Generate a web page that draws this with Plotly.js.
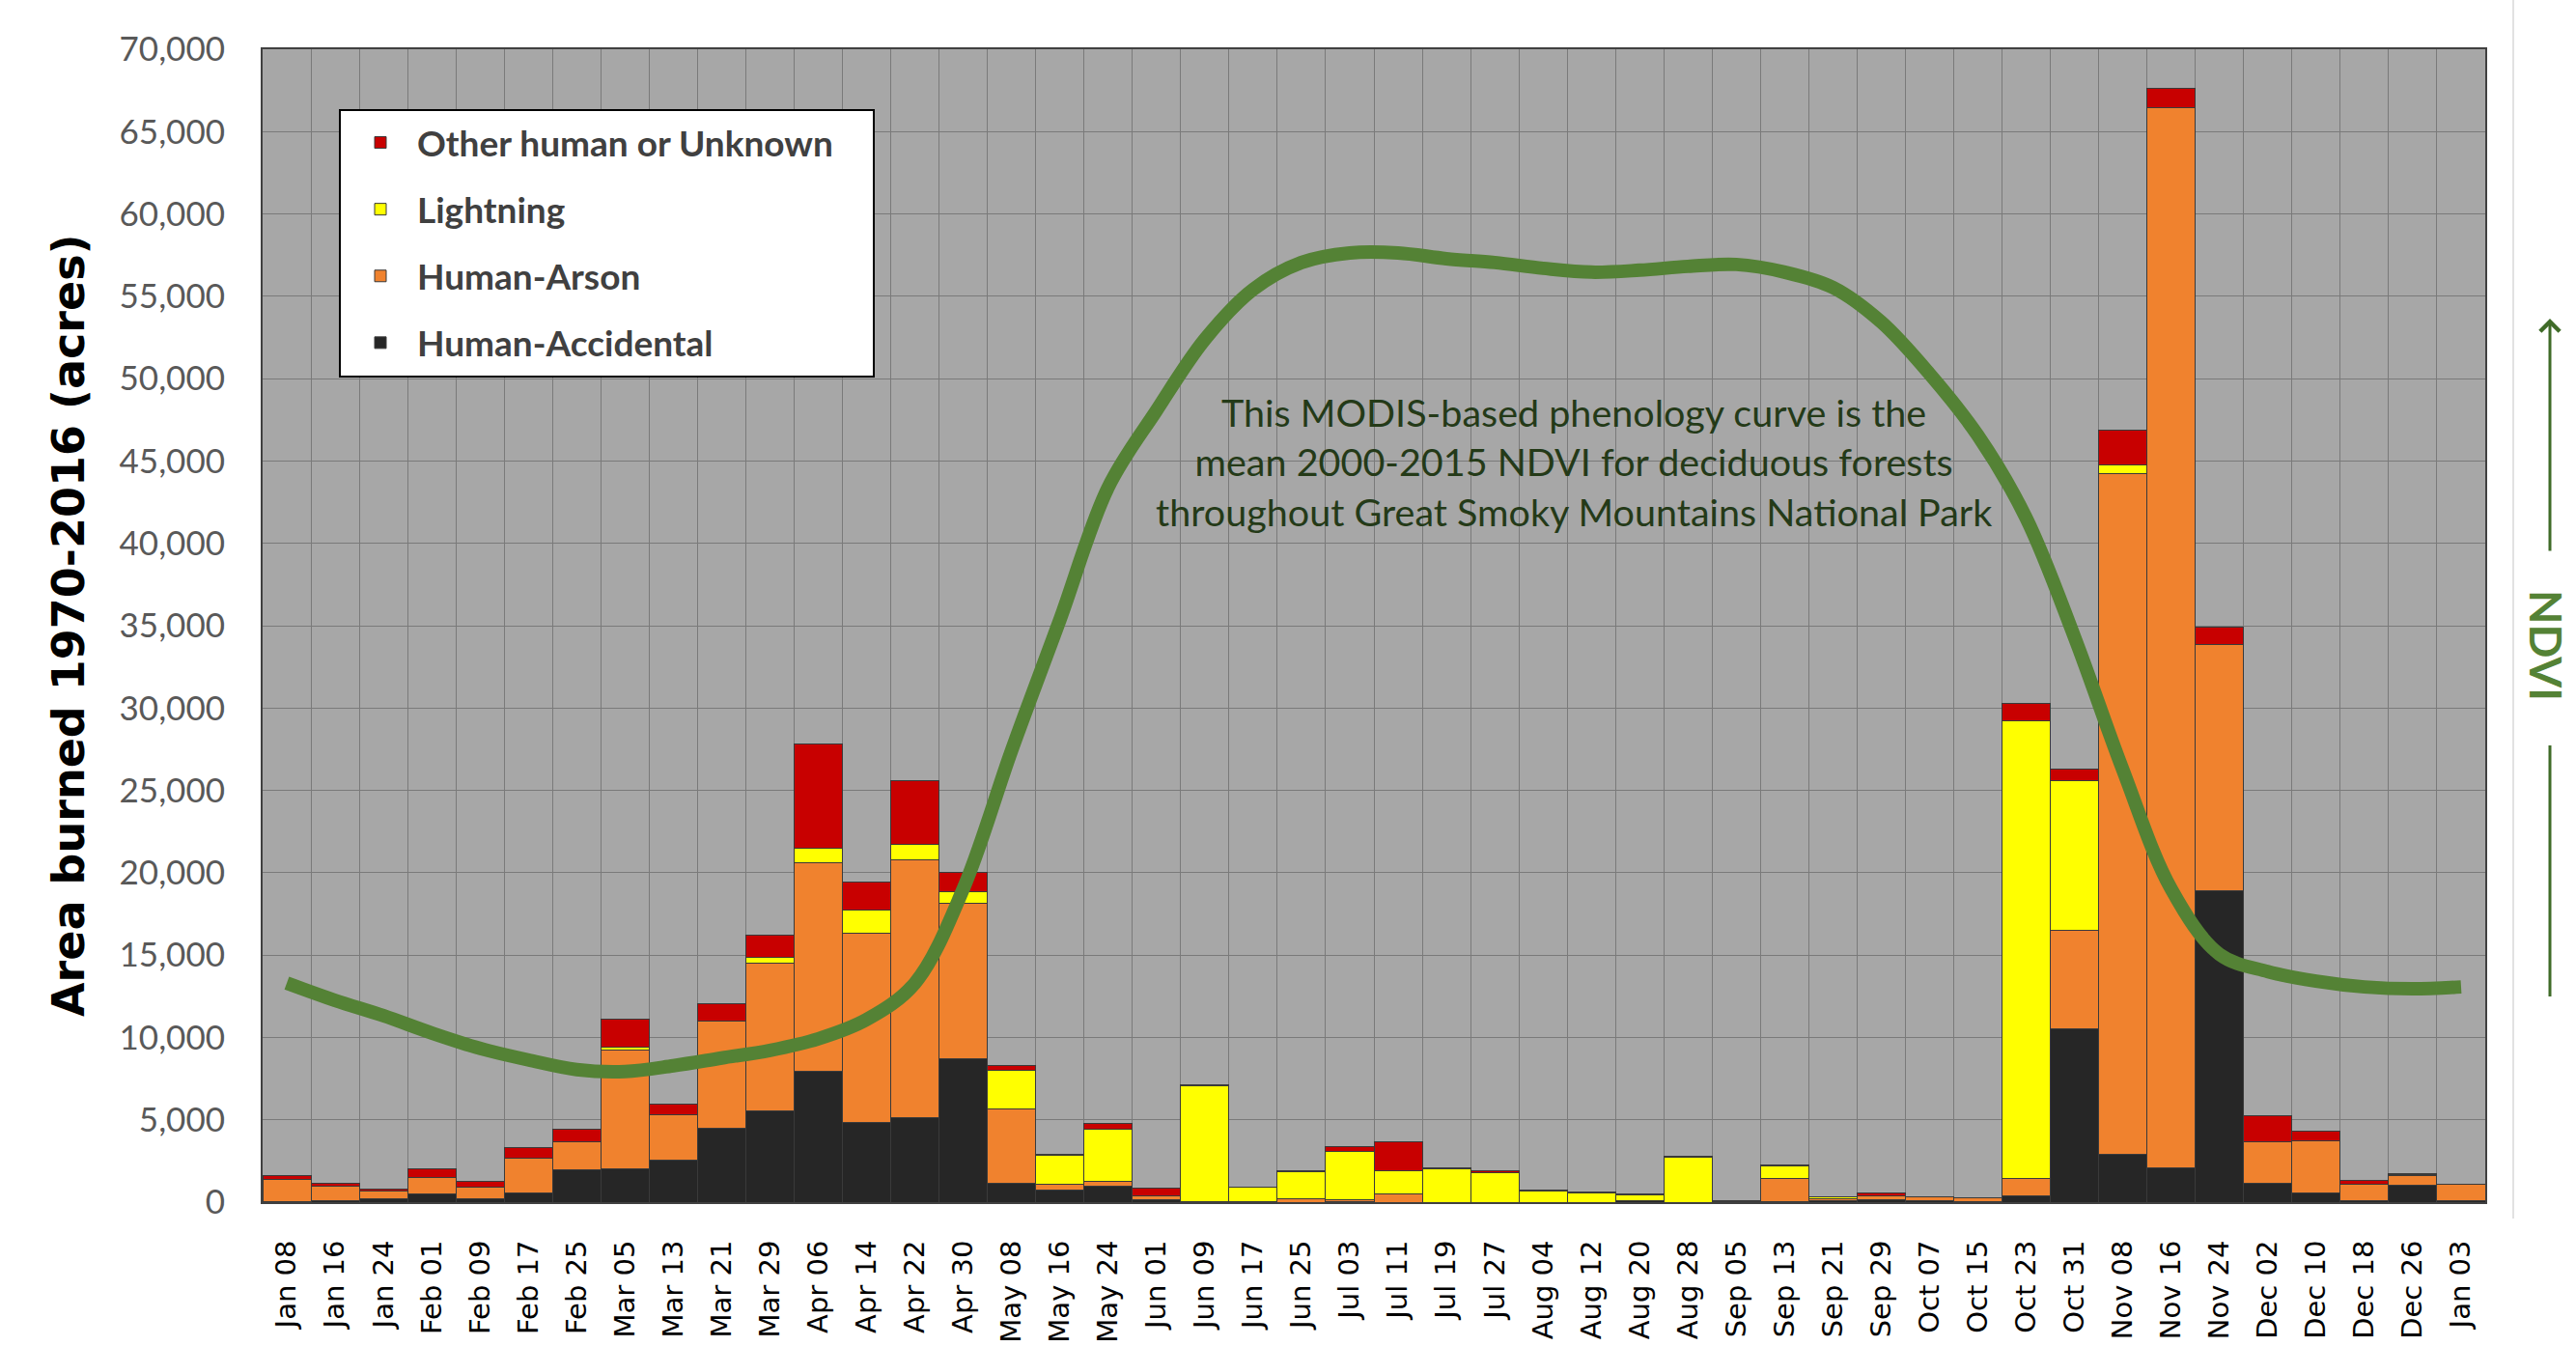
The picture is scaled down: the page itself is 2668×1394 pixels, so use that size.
<!DOCTYPE html>
<html><head><meta charset="utf-8">
<script src="https://cdn.plot.ly/plotly-3.0.1.min.js"></script>
<style>html,body{margin:0;padding:0;background:#fff;}#chart{width:2668px;height:1394px;}</style>
</head><body><div id="chart"></div>
<script>
const weeks = ["Jan 08","Jan 16","Jan 24","Feb 01","Feb 09","Feb 17","Feb 25","Mar 05","Mar 13","Mar 21","Mar 29","Apr 06","Apr 14","Apr 22","Apr 30","May 08","May 16","May 24","Jun 01","Jun 09","Jun 17","Jun 25","Jul 03","Jul 11","Jul 19","Jul 27","Aug 04","Aug 12","Aug 20","Aug 28","Sep 05","Sep 13","Sep 21","Sep 29","Oct 07","Oct 15","Oct 23","Oct 31","Nov 08","Nov 16","Nov 24","Dec 02","Dec 10","Dec 18","Dec 26","Jan 03"];

const humanAccidental = [50,100,200,470,200,570,1940,2000,2550,4490,5560,7920,4840,5140,8680,1140,710,950,160,20,0,0,30,0,0,0,0,0,100,0,50,50,100,150,100,50,370,10500,2880,2090,18900,1140,530,100,1050,80];
const humanArson      = [1300,850,500,1020,720,2080,1730,7220,2740,6530,8940,12680,11460,15660,9490,4500,390,330,200,30,50,200,130,500,0,0,0,0,0,0,50,1390,100,250,200,200,1070,6000,41370,64380,14950,2510,3170,980,550,1000];
const lightning       = [0,0,0,0,0,0,0,190,0,0,360,860,1440,900,700,2360,1720,3160,0,7020,850,1650,2920,1400,2030,1800,700,550,360,2700,0,730,120,0,0,0,27810,9100,500,0,0,0,0,0,50,0];
const otherUnknown    = [250,200,80,550,350,680,780,1690,670,1040,1340,6340,1700,3900,1130,300,100,310,490,50,30,50,290,1750,80,100,50,50,50,60,0,100,20,130,40,20,1010,670,2150,1180,1050,1610,630,260,80,0];

// mean 2000-2015 NDVI (deciduous forests), plotted on a hidden secondary axis
const ndvi = [0.414,0.405,0.397,0.388,0.380,0.374,0.369,0.368,0.371,0.375,0.379,0.385,0.395,0.414,0.463,0.535,0.603,0.672,0.712,0.749,0.775,0.789,0.794,0.794,0.791,0.789,0.786,0.784,0.785,0.787,0.788,0.784,0.776,0.758,0.731,0.699,0.656,0.594,0.525,0.463,0.429,0.420,0.415,0.412,0.411,0.412];

const seriesNames = ["Human-Accidental","Human-Arson","Lightning","Other human or Unknown"];
const seriesColors = ["#262626","#f0822e","#ffff00","#c80000"];
const seriesValues = [humanAccidental, humanArson, lightning, otherUnknown];

const traces = seriesValues.map((vals, i) => ({
  type: "bar",
  x: weeks,
  y: vals,
  name: seriesNames[i],
  legendgroup: "g" + i,
  legendrank: 10 - i,
  marker: {color: seriesColors[i], line: {color: "#3a3a3a", width: 1}},
  hoverinfo: "x+y+name"
}));

traces.push({
  type: "scatter",
  mode: "lines",
  x: weeks,
  y: ndvi,
  yaxis: "y2",
  name: "NDVI",
  showlegend: false,
  line: {color: "#548235", width: 14, shape: "spline", smoothing: 1.0}
});

const L = 272, R = 2574, T = 51, B = 1245;
const W = R - L, H = B - T;
const px = v => (v - L) / W;
const py = v => 1 - (v - T) / H;

const layout = {
  width: 2668, height: 1394,
  margin: {l: L, r: 2668 - R, t: T, b: 1394 - B, pad: 0},
  paper_bgcolor: "#ffffff",
  plot_bgcolor: "#a7a7a7",
  barmode: "stack",
  bargap: 0,
  showlegend: true,
  legend: {
    x: px(354), y: py(115), xanchor: "left", yanchor: "top",
    bgcolor: "rgba(0,0,0,0)", bordercolor: "rgba(0,0,0,0)", borderwidth: 2,
    font: {family: "Lato", size: 37, color: "#404040", weight: "bold"},
    traceorder: "grouped",
    tracegroupgap: 18,
    itemwidth: 66
  },
  xaxis: {
    type: "category",
    tickangle: -90,
    tickson: "boundaries",
    showgrid: true, gridcolor: "#7a7a7a", gridwidth: 1,
    ticks: "",
    ticklabelstandoff: 26,
    tickfont: {family: "DejaVu Sans", size: 29, color: "#000000"},
    showline: true, mirror: true, linecolor: "#404040", linewidth: 2,
    fixedrange: true
  },
  yaxis: {
    range: [0, 70000],
    dtick: 5000,
    tickformat: ",d",
    showgrid: true, gridcolor: "#7a7a7a", gridwidth: 1,
    zeroline: false,
    ticks: "",
    ticklabelstandoff: 30,
    tickfont: {family: "Lato", size: 35, color: "#595959"},
    showline: true, mirror: true, linecolor: "#404040", linewidth: 2,
    fixedrange: true
  },
  yaxis2: {
    overlaying: "y", side: "right", range: [0.3, 0.9], visible: false, fixedrange: true
  },
  annotations: [
    {
      xref: "paper", yref: "paper", x: px(71), y: 0.5,
      text: "Area burned 1970-2016 (acres)", textangle: -90, showarrow: false,
      xanchor: "center", yanchor: "middle",
      font: {family: "DejaVu Sans", size: 46, color: "#000000", weight: "bold"}
    },
    {
      xref: "paper", yref: "paper", x: px(1630), y: py(478),
      text: "This MODIS-based phenology curve is the<br>mean 2000-2015 NDVI for deciduous forests<br>throughout Great Smoky Mountains National Park",
      showarrow: false, xanchor: "center", yanchor: "middle", align: "center",
      font: {family: "Lato", size: 39.5, color: "#243a18"}
    },
    {
      xref: "paper", yref: "paper", x: px(2638), y: py(668),
      text: "NDVI", textangle: 90, showarrow: false,
      xanchor: "center", yanchor: "middle",
      font: {family: "Lato", size: 46, color: "#548235", weight: "bold"}
    },
    {
      xref: "paper", yref: "paper", x: px(2641), y: py(330),
      ax: 0, ay: 242, axref: "pixel", ayref: "pixel",
      text: "", showarrow: true, arrowhead: 4, arrowsize: 1.3, arrowwidth: 3,
      arrowcolor: "#3f6b28"
    }
  ],
  shapes: [
    {type: "rect", xref: "paper", yref: "paper", layer: "above",
     x0: px(352), x1: px(905), y0: py(390), y1: py(114),
     fillcolor: "#ffffff", line: {color: "#000000", width: 2}},
    {type: "line", xref: "paper", yref: "paper", x0: px(2641), x1: px(2641), y0: py(772), y1: py(1032),
     line: {color: "#3f6b28", width: 3}},
    {type: "line", xref: "paper", yref: "paper", x0: px(2603), x1: px(2603), y0: py(0), y1: py(1262),
     line: {color: "#e2e2e2", width: 2}}
  ]
};

Plotly.newPlot("chart", traces, layout, {displayModeBar: false, staticPlot: true});
</script>
</body></html>
